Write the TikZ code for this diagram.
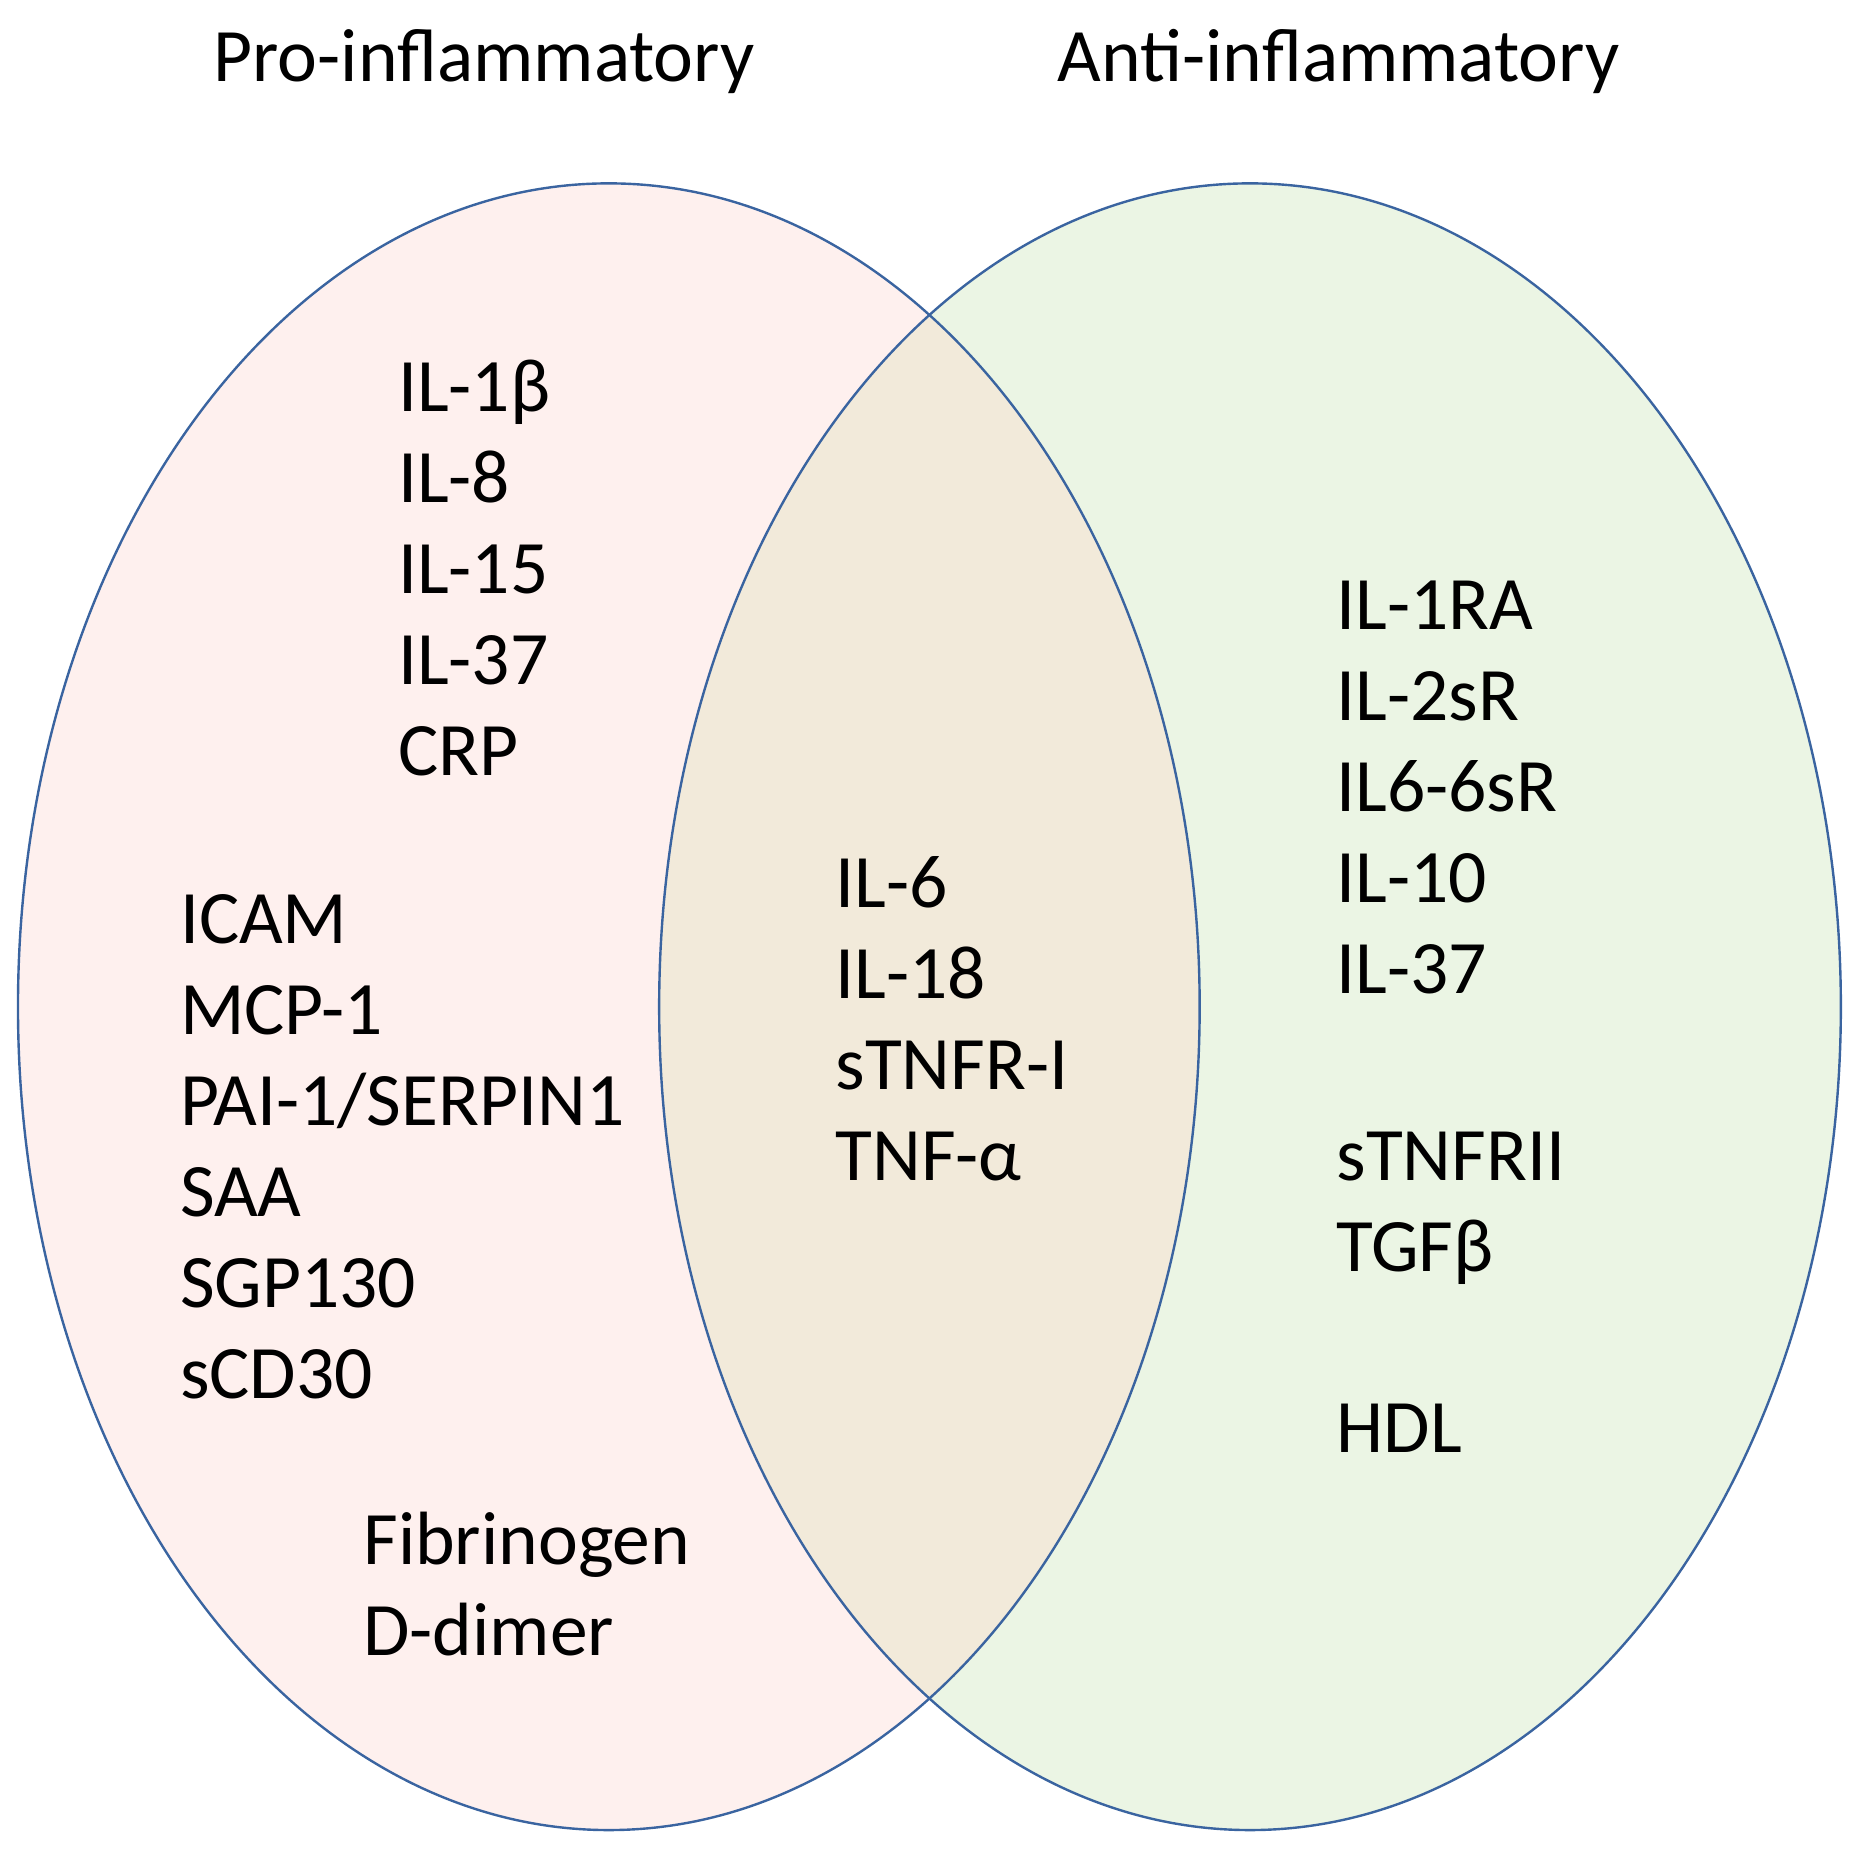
\documentclass[tikz,border=0pt]{standalone}
\usepackage{fontspec}
\setmainfont{Carlito}
\usepackage{tikz}
\definecolor{proFill}{HTML}{FEF0EE}
\definecolor{antiFill}{HTML}{EBF5E4}
\definecolor{bothFill}{HTML}{F2EADA}
\definecolor{rim}{HTML}{3A64A0}
\begin{document}
\begin{tikzpicture}[x=1pt,y=-1pt,
  lst/.style={anchor=base west,align=left,inner sep=0pt,font=\fontsize{63}{76}\selectfont},
  head/.style={anchor=base,inner sep=0pt,font=\fontsize{63}{70}\selectfont}]
\useasboundingbox (0,0) rectangle (1562,1545);
\fill[proFill] (508,840) ellipse [x radius=493,y radius=687];
\fill[antiFill] (1043,840) ellipse [x radius=493,y radius=687];
\begin{scope}
\clip (508,840) ellipse [x radius=493,y radius=687];
\fill[bothFill] (1043,840) ellipse [x radius=493,y radius=687];
\end{scope}
\draw[rim,line width=2pt] (508,840) ellipse [x radius=493,y radius=687];
\draw[rim,line width=2pt] (1043,840) ellipse [x radius=493,y radius=687];
\node[head] (pro) at (404,68) {Pro-inflammatory};
\node[head] (anti) at (1117,68) {Anti-inflammatory};
% base of a multi-line node = last line
\node[lst] (il) at (332,647) {IL-1β\\IL-8\\IL-15\\IL-37\\CRP};
\node[lst] (icam) at (150,1167) {ICAM\\MCP-1\\PAI-1/SERPIN1\\SAA\\SGP130\\sCD30};
\node[lst] (fib) at (303,1381) {Fibrinogen\\D-dimer};
\node[lst] (both) at (697,985) {IL-6\\IL-18\\sTNFR-I\\TNF-α};
\node[lst] (ra) at (1115,829) {IL-1RA\\IL-2sR\\IL6-6sR\\IL-10\\IL-37};
\node[lst] (tnf) at (1115,1061) {sTNFRII\\TGFβ};
\node[lst] (hdl) at (1115,1212) {HDL};
\end{tikzpicture}
\end{document}
